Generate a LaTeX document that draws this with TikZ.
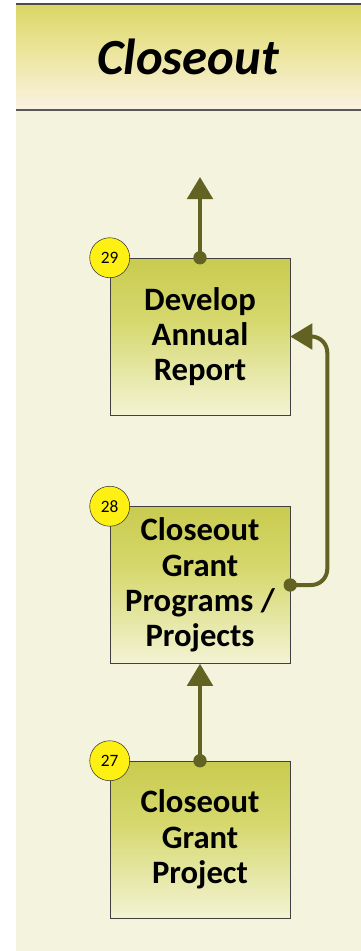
\documentclass[tikz,border=0pt]{standalone}
\usepackage{fontspec}
\setmainfont{Carlito}
\usetikzlibrary{arrows.meta}

\definecolor{cream}{RGB}{244,243,222}
\definecolor{olive}{RGB}{98,98,34}
\definecolor{boxtop}{RGB}{184,187,40}
\definecolor{boxmid}{RGB}{214,216,110}
\definecolor{headtop}{RGB}{200,196,40}
\definecolor{headmid}{RGB}{234,228,150}
\definecolor{numfill}{RGB}{255,240,20}
\pgfdeclareverticalshading{boxshade}{100bp}{color(0bp)=(white); color(14bp)=(white!96!boxmid); color(55bp)=(boxmid); color(100bp)=(boxtop)}
\pgfdeclareverticalshading{headshade}{100bp}{color(0bp)=(white); color(18bp)=(white!96!red); color(55bp)=(headmid); color(100bp)=(headtop)}

\tikzset{
  taskbox/.style={draw=black!75, thin, shading=boxshade, minimum width=135pt, minimum height=117.75pt,
    align=center, font=\bfseries\fontsize{24.5}{26.5}\selectfont, inner sep=1pt},
  numdot/.style={circle, draw=black!80, fill=numfill, minimum size=30pt, inner sep=0pt,
    font=\fontsize{13}{13}\selectfont},
  flowline/.style={olive, line width=3pt, -{Triangle[length=16.5pt,width=19pt]}}
}

\begin{document}
\begin{tikzpicture}[x=0.75pt,y=-0.75pt]
\useasboundingbox (0,0) rectangle (361,951);

% column and header
\fill[cream] (16,111) rectangle (361,951);
\shade[shading=headshade] (16,4) rectangle (361,110);
\draw[black!70, line width=1pt] (16,4) -- (361,4);
\draw[black!65, line width=1.8pt] (16,110) -- (361,110);
\node (title) at (188,57) {\fontsize{38}{38}\selectfont\bfseries\itshape Closeout};

% tasks
\node[taskbox] (t29) at (200,336.5) {Develop\\Annual\\Report};
\node[taskbox] (t28) at (200,585) {Closeout\\Grant\\Programs /\\Projects};
\node[taskbox] (t27) at (200,839.5) {Closeout\\Grant\\Project};

\node[numdot] (n29) at (t29.north west) {29};
\node[numdot] (n28) at (t28.north west) {28};
\node[numdot] (n27) at (t27.north west) {27};

% connectors
\coordinate (out) at (200,177);
\draw[flowline] (t29.north) -- (out);
\draw[flowline] (t27.north) -- (t28.south);
\draw[flowline, rounded corners=12pt] (t28.east) -- ++(37,0) |- (t29.east);
\foreach \p in {t29.north, t27.north, t28.east}
  \fill[olive] (\p) circle (5pt);

\end{tikzpicture}
\end{document}
